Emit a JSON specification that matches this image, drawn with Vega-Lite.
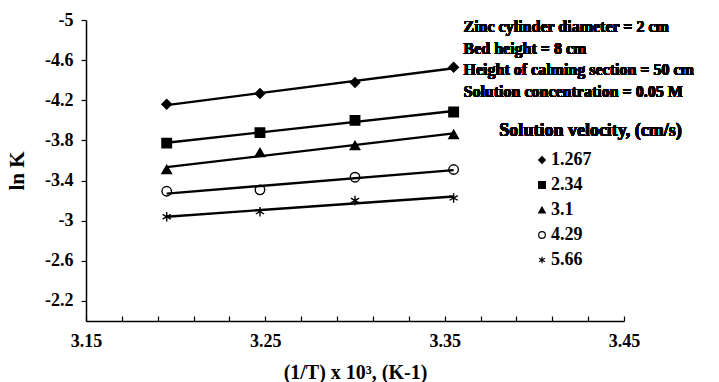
{
  "$schema": "https://vega.github.io/schema/vega-lite/v6.json",
  "width": 538,
  "height": 301,
  "autosize": {"type": "none"},
  "padding": {"left": 86, "top": 20, "right": 95, "bottom": 61},
  "background": "white",
  "config": {
    "view": {"stroke": null},
    "font": "Liberation Serif",
    "axis": {
      "labelFont": "Liberation Serif",
      "labelFontWeight": "bold",
      "labelFontSize": 18,
      "labelColor": "black",
      "titleFont": "Liberation Serif",
      "titleFontWeight": "bold",
      "titleFontSize": 20,
      "titleColor": "black",
      "domainColor": "black",
      "domainWidth": 1.5,
      "tickColor": "black",
      "tickWidth": 1.2,
      "grid": false,
      "labelOverlap": false,
      "labelBound": false
    }
  },
  "data": {
    "values": [
      {"x": 3.195, "lnK": -4.16, "v": "1.267"},
      {"x": 3.247, "lnK": -4.267, "v": "1.267"},
      {"x": 3.300, "lnK": -4.377, "v": "1.267"},
      {"x": 3.355, "lnK": -4.53, "v": "1.267"},
      {"x": 3.195, "lnK": -3.773, "v": "2.34"},
      {"x": 3.247, "lnK": -3.877, "v": "2.34"},
      {"x": 3.300, "lnK": -4.0, "v": "2.34"},
      {"x": 3.355, "lnK": -4.083, "v": "2.34"},
      {"x": 3.195, "lnK": -3.51, "v": "3.1"},
      {"x": 3.247, "lnK": -3.68, "v": "3.1"},
      {"x": 3.300, "lnK": -3.75, "v": "3.1"},
      {"x": 3.355, "lnK": -3.86, "v": "3.1"},
      {"x": 3.195, "lnK": -3.293, "v": "4.29"},
      {"x": 3.247, "lnK": -3.307, "v": "4.29"},
      {"x": 3.300, "lnK": -3.433, "v": "4.29"},
      {"x": 3.355, "lnK": -3.51, "v": "4.29"},
      {"x": 3.195, "lnK": -3.04, "v": "5.66"},
      {"x": 3.247, "lnK": -3.09, "v": "5.66"},
      {"x": 3.300, "lnK": -3.2, "v": "5.66"},
      {"x": 3.355, "lnK": -3.227, "v": "5.66"}
    ]
  },
  "layer": [
    {
      "transform": [
        {"regression": "lnK", "on": "x", "groupby": ["v"]}
      ],
      "mark": {"type": "line", "color": "black", "strokeWidth": 2.4},
      "encoding": {
        "x": {
          "field": "x", "type": "quantitative",
          "scale": {"domain": [3.15, 3.45], "nice": false, "zero": false},
          "axis": {
            "title": "(1/T) x 10³, (K-1)",
            "values": [3.15, 3.17, 3.19, 3.21, 3.23, 3.25, 3.27, 3.29, 3.31, 3.33, 3.35, 3.37, 3.39, 3.41, 3.43, 3.45],
            "tickCount": 40,
            "labelExpr": "indexof(['3.15','3.25','3.35','3.45'], format(datum.value, '.2f')) >= 0 ? format(datum.value, '.2f') : ''",
            "tickSize": -5,
            "labelPadding": 16,
            "labelFlush": false,
            "titlePadding": 12
          }
        },
        "y": {
          "field": "lnK", "type": "quantitative",
          "scale": {"domain": [-5, -2], "reverse": true, "nice": false, "zero": false},
          "axis": {
            "title": "ln K",
            "values": [-5, -4.6, -4.2, -3.8, -3.4, -3, -2.6, -2.2],
            "tickCount": 40,
            "labelExpr": "toString(datum.value)",
            "tickSize": 5,
            "labelPadding": 8,
            "titleFontSize": 21,
            "titlePadding": 17
          }
        },
        "detail": {"field": "v"}
      }
    },
    {
      "mark": {"type": "point", "strokeWidth": 1.4, "opacity": 1},
      "encoding": {
        "x": {"field": "x", "type": "quantitative"},
        "y": {"field": "lnK", "type": "quantitative"},
        "shape": {
          "field": "v", "type": "nominal",
          "scale": {
            "domain": ["1.267", "2.34", "3.1", "4.29", "5.66"],
            "range": ["diamond", "square", "triangle-up", "circle", "M0,-1L0,1M-0.87,-0.5L0.87,0.5M-0.87,0.5L0.87,-0.5"]
          },
          "legend": {
            "title": null,
            "orient": "none",
            "legendX": 447,
            "legendY": 131,
            "padding": 0,
            "labelFont": "Liberation Serif",
            "labelFontWeight": "bold",
            "labelFontSize": 18,
            "labelColor": "black",
            "labelOffset": 0,
            "symbolSize": 45,
            "symbolStrokeWidth": 1.2,
            "rowPadding": 7
          }
        },
        "fill": {
          "field": "v", "type": "nominal",
          "scale": {
            "domain": ["1.267", "2.34", "3.1", "4.29", "5.66"],
            "range": ["black", "black", "black", "transparent", "transparent"]
          },
          "legend": null
        },
        "stroke": {
          "field": "v", "type": "nominal",
          "scale": {
            "domain": ["1.267", "2.34", "3.1", "4.29", "5.66"],
            "range": ["black", "black", "black", "black", "black"]
          },
          "legend": null
        },
        "size": {"value": 90}
      }
    },
    {
      "mark": {"type": "text", "align": "left", "baseline": "middle", "font": "Liberation Serif", "fontWeight": "bold", "fontSize": 16, "lineHeight": 21.5, "color": "black"},
      "encoding": {
        "x": {"datum": 3.3605},
        "y": {"datum": -4.93},
        "text": {"value": ["Zinc cylinder diameter = 2 cm", "Bed height = 8 cm", "Height of calming section = 50 cm", "Solution concentration = 0.05 M"]}
      }
    },
    {
      "mark": {"type": "text", "align": "left", "baseline": "middle", "font": "Liberation Serif", "fontWeight": "bold", "fontSize": 18, "color": "black"},
      "encoding": {
        "x": {"datum": 3.3805},
        "y": {"datum": -3.89},
        "text": {"value": "Solution velocity, (cm/s)"}
      }
    }
  ]
}
